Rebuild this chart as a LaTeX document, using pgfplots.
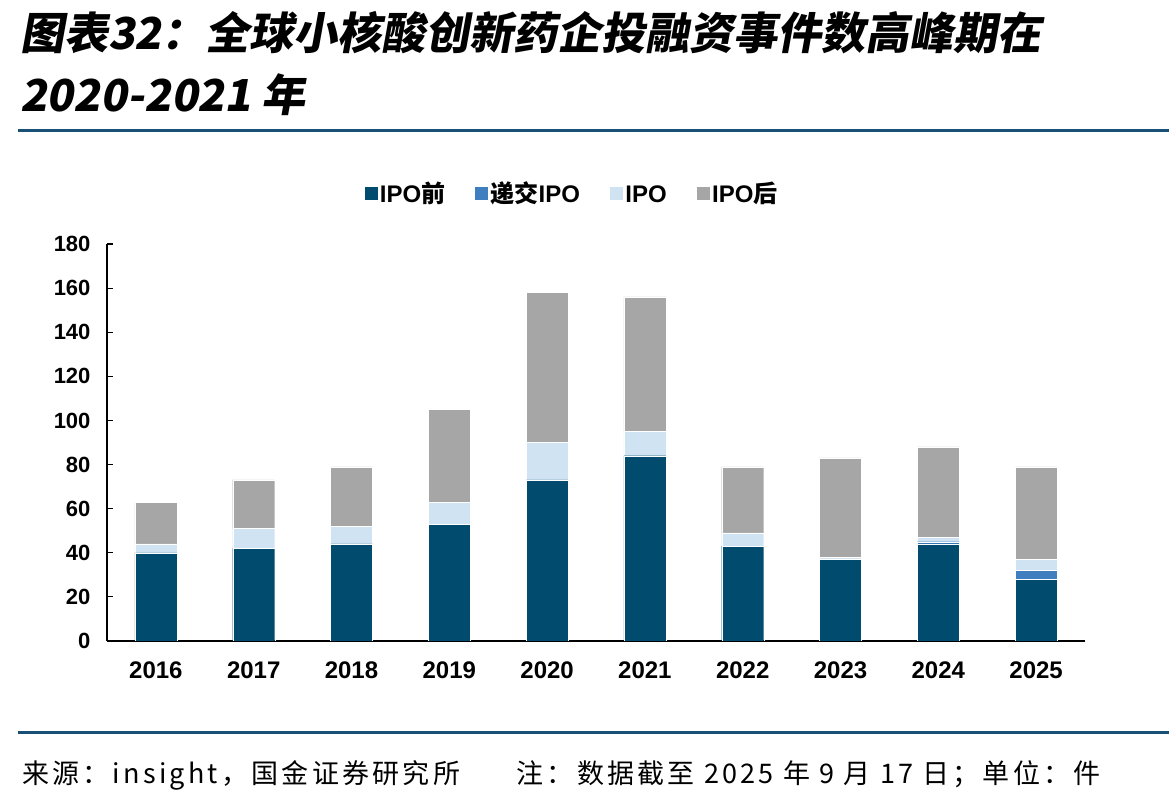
\documentclass[border=0pt]{standalone}
\usepackage{pgfplots}
\pgfplotsset{compat=1.18}
\usepackage{fontspec}
\setmainfont{Liberation Sans}
\newfontfamily\cjk{Noto Sans CJK SC}
\newfontfamily\cjkfoot[LetterSpace=12]{Noto Sans CJK SC}
\newfontfamily\cjktitle[FakeSlant=0.18]{Noto Sans CJK SC}
\definecolor{cPre}{RGB}{0,75,110}
\definecolor{cSub}{RGB}{63,127,191}
\definecolor{cIPO}{RGB}{208,227,242}
\definecolor{cPost}{RGB}{166,166,166}
\definecolor{cRule}{RGB}{24,80,120}
\begin{document}
\begin{tikzpicture}[x=1pt,y=1pt]
\useasboundingbox (0,0) rectangle (1169,800);
% title
\node[anchor=west,inner sep=0] at (20,767) {\cjktitle\bfseries\fontsize{44}{44}\selectfont 图表32：全球小核酸创新药企投融资事件数高峰期在};
\node[anchor=west,inner sep=0] at (20,705) {\cjktitle\bfseries\fontsize{44}{44}\selectfont 2020-2021 年};
\fill[cRule] (18,667.5) rectangle (1169,670.5);
\fill[cRule] (18,65.5) rectangle (1169,68.5);
\node[anchor=west,inner sep=0] at (22,25) {\cjkfoot\fontsize{27}{27}\selectfont 来源：insight，国金证券研究所\hspace{2.1em}注：数据截至 2025 年 9 月 17 日；单位：件};
\begin{axis}[
  at={(107pt,159pt)}, anchor=south west,
  scale only axis, width=978pt, height=397pt,
  ybar stacked, bar width=42pt,
  xmin=-0.5, xmax=9.5, ymin=0, ymax=180,
  ytick={0,20,...,180},
  xtick={0,...,9},
  xticklabels={2016,2017,2018,2019,2020,2021,2022,2023,2024,2025},
  x tick style={draw=none},
  extra x ticks={0.5,1.5,...,9.5},
  extra x tick labels={},
  extra x tick style={major tick length=7pt, tick style={black, line width=1.2pt, draw}},
  axis x line*=bottom, axis y line*=left,
  axis line style={black, line width=1.3pt, -},
  tick align=inside,
  major tick length=6pt,
  y tick style={black, line width=1.2pt},
  /pgf/number format/assume math mode=true,
  yticklabel style={font=\bfseries\fontsize{22}{22}\selectfont, xshift=-13pt},
  xticklabel style={font=\bfseries\fontsize{24}{24}\selectfont, yshift=-17pt},
  legend style={at={(axis description cs:0.475,1.128)}, anchor=center, draw=none, legend columns=4,
    font=\bfseries\fontsize{24}{24}\selectfont,
    /tikz/every even column/.append style={column sep=27pt}},
  legend image code/.code={\fill[#1] (0pt,-7pt) rectangle (14pt,7pt);},
  legend cell align=left,
]
\addplot+[fill=cPre, draw=white, line width=0.4pt] coordinates {(0,40) (1,42) (2,44) (3,53) (4,73) (5,84) (6,43) (7,37) (8,44) (9,28)};
\addplot+[fill=cSub, draw=white, line width=0.4pt] coordinates {(0,0) (1,0) (2,0) (3,0) (4,0) (5,0) (6,0) (7,0) (8,1) (9,4)};
\addplot+[fill=cIPO, draw=white, line width=0.4pt] coordinates {(0,4) (1,9) (2,8) (3,10) (4,17) (5,11) (6,6) (7,1) (8,2) (9,5)};
\addplot+[fill=cPost, draw=white, line width=0.4pt] coordinates {(0,19) (1,22) (2,27) (3,42) (4,68) (5,61) (6,30) (7,45) (8,41) (9,42)};
\legend{IPO{\cjk 前},{\cjk 递交}IPO,IPO{\cjk\vphantom{前}},IPO{\cjk 后}}
\end{axis}
\end{tikzpicture}
\end{document}
